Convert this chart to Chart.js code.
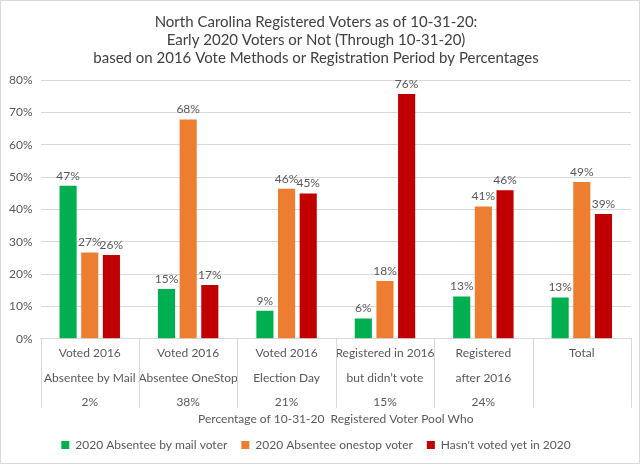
<!DOCTYPE html>
<html>
<head>
<meta charset="utf-8">
<script src="https://cdn.jsdelivr.net/npm/chart.js@4"></script>
<style>
  html, body { margin: 0; padding: 0; background: #fff; }
  #wrap { width: 638px; height: 462px; border: 1px solid #d9d9d9; }
</style>
</head>
<body>
<div id="wrap"><canvas id="chart" width="638" height="462"></canvas></div>
<script>
// Данные
const categories = [
    ['Voted 2016', 'Absentee by Mail', '2%'],
    ['Voted 2016', 'Absentee OneStop', '38%'],
    ['Voted 2016', 'Election Day', '21%'],
    ['Registered in 2016', 'but didn\u2019t vote', '15%'],
    ['Registered', 'after 2016', '24%'],
    ['Total', '', '']
];
const mailVoters = [47.3, 15.4, 8.7, 6.3, 13.1, 12.8];
const onestopVoters = [26.7, 67.8, 46.4, 17.9, 40.9, 48.5];
const notVoted = [25.9, 16.6, 44.9, 75.7, 45.9, 38.6];
const yTicks = [0, 10, 20, 30, 40, 50, 60, 70, 80];

const textColor = '#595959';
const fontFamily = 'Lato, "Open Sans", sans-serif';

// Подписи над столбцами
const barLabels = {
    id: 'barLabels',
    afterDatasetsDraw(chart) {
        const ctx = chart.ctx;
        ctx.save();
        ctx.fillStyle = textColor;
        ctx.font = '12px ' + fontFamily;
        ctx.textAlign = 'center';
        ctx.textBaseline = 'bottom';
        chart.data.datasets.forEach((ds, i) => {
            chart.getDatasetMeta(i).data.forEach((bar, j) => {
                ctx.fillText(Math.round(ds.data[j]) + '%', bar.x, bar.y - 4);
            });
        });
        ctx.restore();
    }
};

// Разделители категорий под осью
const separators = {
    id: 'separators',
    afterDraw(chart) {
        const ctx = chart.ctx;
        const x = chart.scales.x;
        const area = chart.chartArea;
        const step = (area.right - area.left) / categories.length;
        ctx.save();
        ctx.strokeStyle = '#d9d9d9';
        ctx.lineWidth = 1;
        ctx.beginPath();
        for (let i = 0; i <= categories.length; i++) {
            const px = Math.round(x.getPixelForValue(0) + (i - 0.5) * step) + 0.5;
            ctx.moveTo(px, area.bottom);
            ctx.lineTo(px, area.bottom + 69);
        }
        ctx.stroke();
        ctx.restore();
    }
};

new Chart(document.getElementById('chart').getContext('2d'), {
    type: 'bar',
    data: {
        labels: categories,
        datasets: [{
            label: '2020 Absentee by mail voter',
            data: mailVoters,
            backgroundColor: '#00B050'
        }, {
            label: '2020 Absentee onestop voter',
            data: onestopVoters,
            backgroundColor: '#ED7D31'
        }, {
            label: 'Hasn\'t voted yet in 2020',
            data: notVoted,
            backgroundColor: '#C00000'
        }]
    },
    options: {
        responsive: false,
        animation: false,
        devicePixelRatio: 1,
        categoryPercentage: 0.66,
        barPercentage: 0.79,
        layout: { padding: { left: 0, right: 8, top: 8, bottom: 2 } },
        plugins: {
            title: {
                display: true,
                text: [
                    'North Carolina Registered Voters as of 10-31-20:',
                    'Early 2020 Voters or Not (Through 10-31-20)',
                    'based on 2016 Vote Methods or Registration Period by Percentages'
                ],
                color: '#404040',
                font: { family: fontFamily, size: 15, weight: 'normal', lineHeight: 1.2 },
                padding: { top: 4, bottom: 13 }
            },
            legend: {
                position: 'bottom',
                labels: {
                    color: textColor,
                    font: { family: fontFamily, size: 12 },
                    boxWidth: 8,
                    boxHeight: 8,
                    padding: 14
                }
            },
            tooltip: { enabled: false }
        },
        scales: {
            x: {
                grid: { display: false },
                border: { color: '#d9d9d9' },
                afterFit(scale) {
                    scale.height += 9;
                },
                ticks: {
                    color: textColor,
                    font: { family: fontFamily, size: 12, lineHeight: 2.05 },
                    maxRotation: 0,
                    autoSkip: false,
                    padding: -6
                },
                title: {
                    display: true,
                    text: 'Percentage of 10-31-20  Registered Voter Pool Who',
                    color: textColor,
                    font: { family: fontFamily, size: 12 },
                    padding: { top: -6, bottom: -1 }
                }
            },
            y: {
                min: 0,
                max: 80,
                afterBuildTicks(axis) {
                    axis.ticks = yTicks.map(v => ({ value: v }));
                },
                grid: { color: '#d9d9d9', drawTicks: false },
                border: { display: false },
                ticks: {
                    color: textColor,
                    font: { family: fontFamily, size: 12 },
                    padding: 8,
                    callback: v => v + '%'
                }
            }
        }
    },
    plugins: [barLabels, separators]
});
</script>
</body>
</html>
